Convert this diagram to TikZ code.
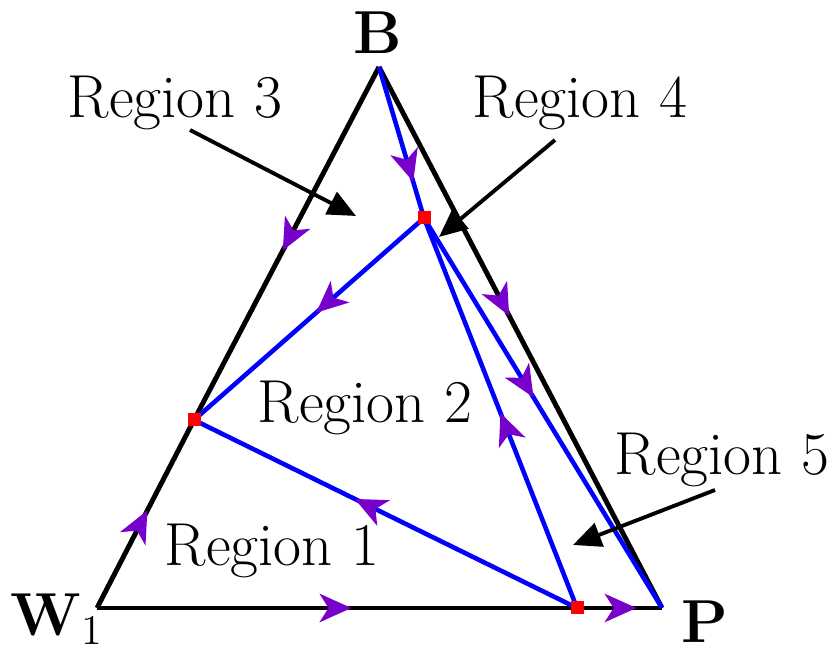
\documentclass[tikz,border=0pt]{standalone}
\usetikzlibrary{arrows.meta,decorations.markings}
\definecolor{flowpurple}{RGB}{120,0,205}
\tikzset{
    midarrow/.style={postaction={decorate}, decoration={markings,
        mark=at position #1 with {\arrow{Stealth[length=9pt,width=8pt,inset=2.5pt,flowpurple]}}}},
    edge/.style={line width=1.4pt, black},
    path/.style={line width=1.3pt, blue},
    redpt/.style={rectangle, fill=red, minimum size=0.13cm, inner sep=0pt},
    pointer/.style={-{Triangle[length=8pt,width=7pt]}, line width=1.1pt},
    lbl/.style={font=\LARGE},
    vlbl/.style={font=\LARGE, inner sep=0pt}
}
\begin{document}
\begin{tikzpicture}
    \useasboundingbox (0,0) rectangle (8.29,6.5);
    % Vertices
    \coordinate (W) at (0.97, 0.42);
    \coordinate (P) at (6.62, 0.42);
    \coordinate (B) at (3.79, 5.83);
    \node[vlbl] (Wlabel) at (0.57, 0.31) {$\mathbf{W}_1$};
    \node[vlbl] (Plabel) at (7.05, 0.28) {$\mathbf{P}$};
    \node[vlbl] (Blabel) at (3.78, 6.17) {$\mathbf{B}$};

    % Fixed points
    \coordinate (q1) at (4.24, 4.32);
    \coordinate (q2) at (1.94, 2.30);
    \coordinate (q3) at (5.77, 0.42);

    % Triangle edges
    \draw[edge, midarrow=0.52] (W) -- (q2);
    \draw[edge, midarrow=0.52] (B) -- (q2);
    \draw[edge, midarrow=0.46] (B) -- (P);
    \draw[edge, midarrow=0.53] (W) -- (q3);
    \draw[edge, midarrow=0.70] (q3) -- (P);

    % Separatrices
    \draw[path, midarrow=0.76] (B) -- (q1);
    \draw[path, midarrow=0.47] (q1) -- (q2);
    \draw[path, midarrow=0.46] (q1) -- (P);
    \draw[path, midarrow=0.50] (q3) -- (q1);
    \draw[path, midarrow=0.58] (q3) -- (q2);

    \node[redpt] (r1) at (q1) {};
    \node[redpt] (r2) at (q2) {};
    \node[redpt] (r3) at (q3) {};

    % Region labels
    \node[lbl] (reg1) at (2.72, 0.99) {Region 1};
    \node[lbl] (reg2) at (3.65, 2.42) {Region 2};
    \node[lbl] (reg3) at (1.75, 5.47) {Region 3};
    \node[lbl] (reg4) at (5.80, 5.47) {Region 4};
    \node[lbl] (reg5) at (7.22, 1.90) {Region 5};
    \coordinate (in3) at (3.56, 4.34);
    \coordinate (in4) at (4.39, 4.13);
    \coordinate (in5) at (5.73, 1.05);
    \draw[pointer] (1.90, 5.20) -- (in3);
    \draw[pointer] (5.55, 5.10) -- (in4);
    \draw[pointer] (7.15, 1.60) -- (in5);
\end{tikzpicture}
\end{document}
